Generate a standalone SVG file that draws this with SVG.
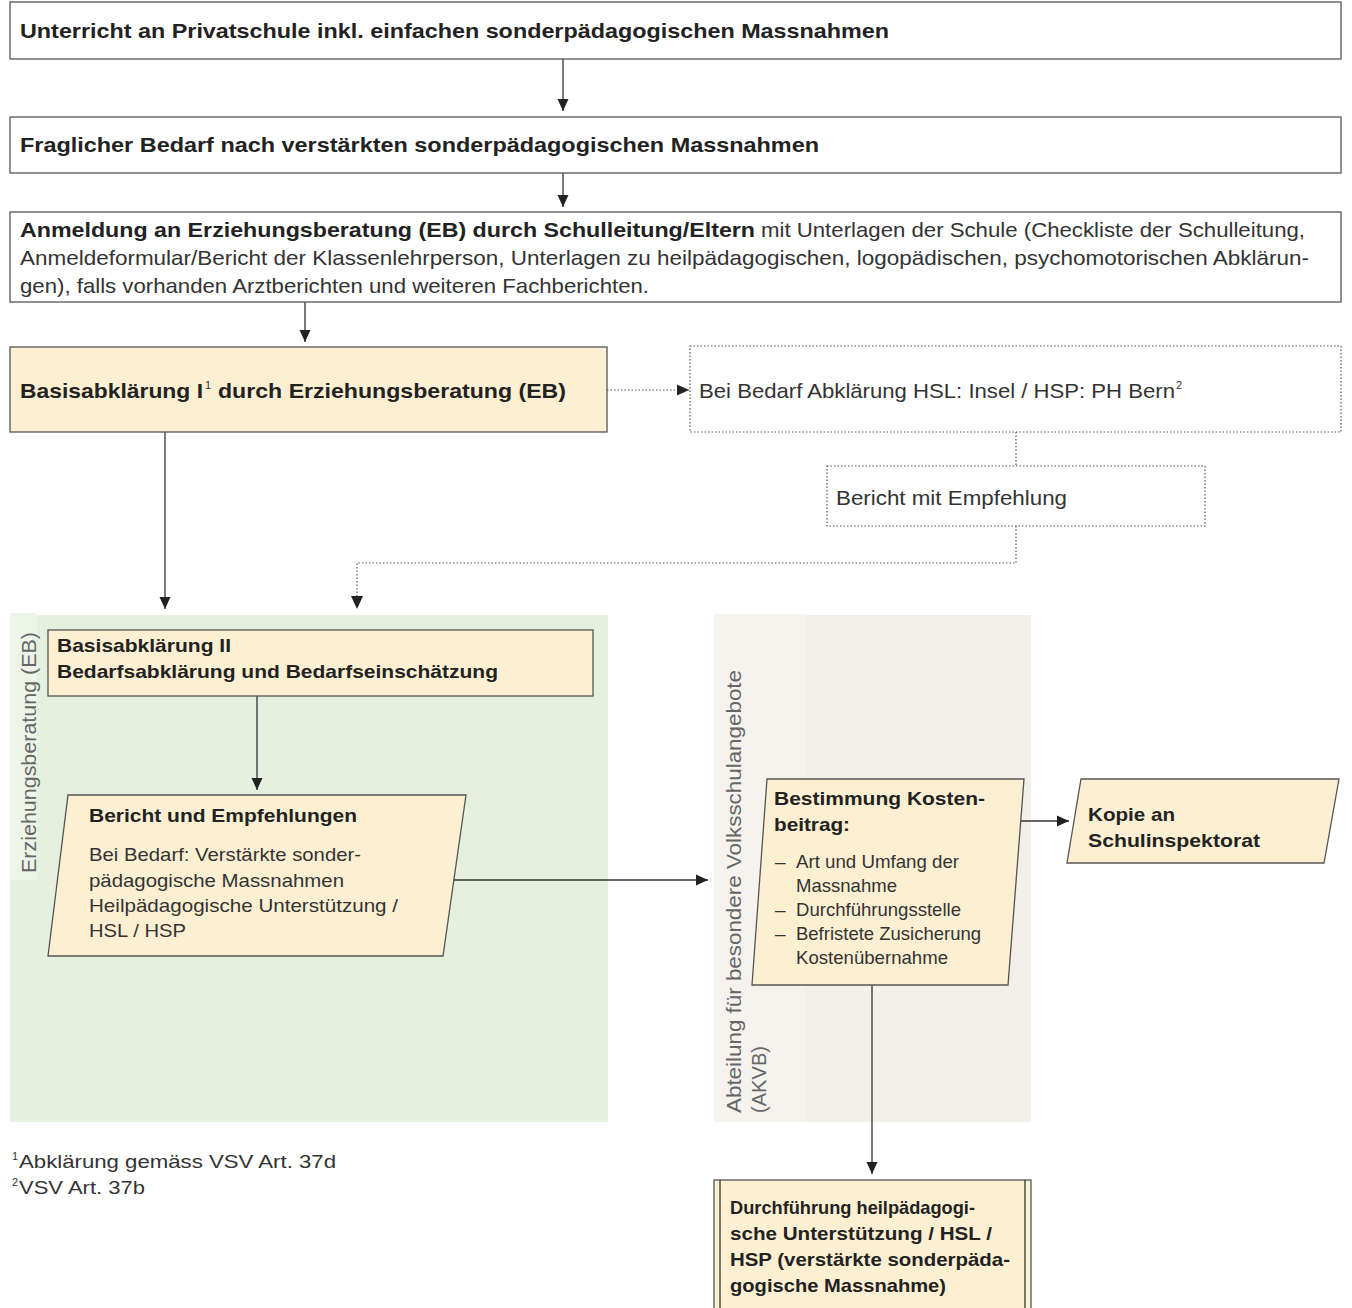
<svg xmlns="http://www.w3.org/2000/svg" width="1352" height="1308" viewBox="0 0 1352 1308">
<defs>
<style>
.box{fill:#fff;stroke:#555;stroke-width:1.3}
.yel{fill:#fdf0d2;stroke:#555;stroke-width:1.3}
.dot{fill:none;stroke:#555;stroke-width:1.2;stroke-dasharray:1.5 2}
.ln{fill:none;stroke:#333;stroke-width:1.3}
.dl{fill:none;stroke:#555;stroke-width:1.2;stroke-dasharray:1.5 2}
text{font-family:"Liberation Sans",Arial,sans-serif;font-size:21px;fill:#333}
.b{font-weight:bold;fill:#222}
.s{font-size:19px}
.sup{font-size:11px}
.lane{fill:#666;font-size:21px}
</style>
<marker id="ah" markerWidth="12" markerHeight="12" viewBox="0 0 12 12" refX="12" refY="6" orient="auto" markerUnits="userSpaceOnUse">
<path d="M0,0.5 L12,6 L0,11.5 Z" fill="#222"/>
</marker>
</defs>
<rect width="1352" height="1308" fill="#fff"/>

<g id="lanes">
<rect x="10" y="615" width="598" height="507" fill="#e6f0de"/>
<rect x="10" y="613" width="27" height="267" fill="#edf4e8"/>
<text class="lane" transform="translate(36,873) rotate(-90)" textLength="241" lengthAdjust="spacingAndGlyphs">Erziehungsberatung (EB)</text>
<rect x="714" y="615" width="317" height="507" fill="#f3efe9"/>
<rect x="714" y="614" width="91" height="508" fill="#f6f3ef"/>
<text class="lane" transform="translate(741,1113) rotate(-90)" textLength="443" lengthAdjust="spacingAndGlyphs">Abteilung für besondere Volksschulangebote</text>
<text class="lane" transform="translate(766,1113) rotate(-90)" textLength="67" lengthAdjust="spacingAndGlyphs">(AKVB)</text>
</g>

<g id="connectors">
<line class="ln" x1="563" y1="59" x2="563" y2="111" marker-end="url(#ah)"/>
<line class="ln" x1="563" y1="173" x2="563" y2="207" marker-end="url(#ah)"/>
<line class="ln" x1="305" y1="302" x2="305" y2="342" marker-end="url(#ah)"/>
<line class="dl" x1="607" y1="390" x2="689" y2="390" marker-end="url(#ah)"/>
<line class="dl" x1="1016" y1="432" x2="1016" y2="466"/>
<polyline class="dl" points="1016,526 1016,563 357,563 357,603"/>
<path d="M351,596 L363,596 L357,609 Z" fill="#222"/>
<line class="ln" x1="165" y1="432" x2="165" y2="609" marker-end="url(#ah)"/>
<line class="ln" x1="257" y1="696" x2="257" y2="790" marker-end="url(#ah)"/>
<line class="ln" x1="447" y1="880" x2="708" y2="880" marker-end="url(#ah)"/>
<line class="ln" x1="1020" y1="821" x2="1069" y2="821" marker-end="url(#ah)"/>
<line class="ln" x1="872" y1="985" x2="872" y2="1174" marker-end="url(#ah)"/>
</g>

<g id="n1">
<rect class="box" x="10" y="2" width="1331" height="57"/>
<text class="b" x="20" y="38" textLength="869" lengthAdjust="spacingAndGlyphs">Unterricht an Privatschule inkl. einfachen sonderpädagogischen Massnahmen</text>
</g>
<g id="n2">
<rect class="box" x="10" y="117" width="1331" height="56"/>
<text class="b" x="20" y="152" textLength="799" lengthAdjust="spacingAndGlyphs">Fraglicher Bedarf nach verstärkten sonderpädagogischen Massnahmen</text>
</g>
<g id="n3">
<rect class="box" x="10" y="212" width="1331" height="90"/>
<text class="b" x="20" y="237" textLength="735" lengthAdjust="spacingAndGlyphs">Anmeldung an Erziehungsberatung (EB) durch Schulleitung/Eltern</text>
<text x="761" y="237" textLength="544" lengthAdjust="spacingAndGlyphs">mit Unterlagen der Schule (Checkliste der Schulleitung,</text>
<text x="20" y="265" textLength="1289" lengthAdjust="spacingAndGlyphs">Anmeldeformular/Bericht der Klassenlehrperson, Unterlagen zu heilpädagogischen, logopädischen, psychomotorischen Abklärun-</text>
<text x="20" y="293" textLength="629" lengthAdjust="spacingAndGlyphs">gen), falls vorhanden Arztberichten und weiteren Fachberichten.</text>
</g>
<g id="n4">
<rect class="yel" x="10" y="347" width="597" height="85"/>
<text class="b" x="20" y="398" textLength="183" lengthAdjust="spacingAndGlyphs">Basisabklärung I</text>
<text class="sup" x="205" y="389">1</text>
<text class="b" x="218" y="398" textLength="348" lengthAdjust="spacingAndGlyphs">durch Erziehungsberatung (EB)</text>
</g>
<g id="n5">
<rect class="dot" x="690" y="346" width="651" height="86"/>
<text x="699" y="398" textLength="476" lengthAdjust="spacingAndGlyphs">Bei Bedarf Abklärung HSL: Insel / HSP: PH Bern</text>
<text class="sup" x="1176" y="389">2</text>
</g>
<g id="n6">
<rect class="dot" x="827" y="466" width="378" height="60"/>
<text x="836" y="505" textLength="231" lengthAdjust="spacingAndGlyphs">Bericht mit Empfehlung</text>
</g>
<g id="n7">
<rect class="yel" x="48" y="630" width="545" height="66"/>
<text class="b s" x="57" y="652" textLength="174" lengthAdjust="spacingAndGlyphs">Basisabklärung II</text>
<text class="b s" x="57" y="678" textLength="441" lengthAdjust="spacingAndGlyphs">Bedarfsabklärung und Bedarfseinschätzung</text>
</g>
<g id="n8">
<polygon class="yel" points="68,795 466,795 443,956 48,956"/>
<text class="b s" x="89" y="822" textLength="268" lengthAdjust="spacingAndGlyphs">Bericht und Empfehlungen</text>
<text class="s" x="89" y="861" textLength="272" lengthAdjust="spacingAndGlyphs">Bei Bedarf: Verstärkte sonder-</text>
<text class="s" x="89" y="887" textLength="255" lengthAdjust="spacingAndGlyphs">pädagogische Massnahmen</text>
<text class="s" x="89" y="912" textLength="309" lengthAdjust="spacingAndGlyphs">Heilpädagogische Unterstützung /</text>
<text class="s" x="89" y="937" textLength="97" lengthAdjust="spacingAndGlyphs">HSL / HSP</text>
</g>
<g id="n9">
<polygon class="yel" points="767,779 1024,779 1008,985 752,985"/>
<text class="b s" x="774" y="805" textLength="211" lengthAdjust="spacingAndGlyphs">Bestimmung Kosten-</text>
<text class="b s" x="774" y="831" textLength="76" lengthAdjust="spacingAndGlyphs">beitrag:</text>
<text class="s" x="775" y="868">–</text><text class="s" x="796" y="868" textLength="163" lengthAdjust="spacingAndGlyphs">Art und Umfang der</text>
<text class="s" x="796" y="892" textLength="101" lengthAdjust="spacingAndGlyphs">Massnahme</text>
<text class="s" x="775" y="916">–</text><text class="s" x="796" y="916" textLength="165" lengthAdjust="spacingAndGlyphs">Durchführungsstelle</text>
<text class="s" x="775" y="940">–</text><text class="s" x="796" y="940" textLength="185" lengthAdjust="spacingAndGlyphs">Befristete Zusicherung</text>
<text class="s" x="796" y="964" textLength="152" lengthAdjust="spacingAndGlyphs">Kostenübernahme</text>
</g>
<g id="n10">
<polygon class="yel" points="1081,779 1339,779 1324,863 1067,863"/>
<text class="b s" x="1088" y="821" textLength="87" lengthAdjust="spacingAndGlyphs">Kopie an</text>
<text class="b s" x="1088" y="847" textLength="172" lengthAdjust="spacingAndGlyphs">Schulinspektorat</text>
</g>
<g id="n11">
<rect class="yel" x="714" y="1180" width="317" height="135"/>
<line class="ln" x1="720" y1="1180" x2="720" y2="1308"/>
<line class="ln" x1="1025" y1="1180" x2="1025" y2="1308"/>
<text class="b s" x="730" y="1214" textLength="245" lengthAdjust="spacingAndGlyphs">Durchführung heilpädagogi-</text>
<text class="b s" x="730" y="1240" textLength="262" lengthAdjust="spacingAndGlyphs">sche Unterstützung / HSL /</text>
<text class="b s" x="730" y="1266" textLength="280" lengthAdjust="spacingAndGlyphs">HSP (verstärkte sonderpäda-</text>
<text class="b s" x="730" y="1292" textLength="216" lengthAdjust="spacingAndGlyphs">gogische Massnahme)</text>
</g>
<g id="footnotes">
<text class="sup" x="12" y="1160">1</text>
<text class="s" x="19" y="1168" textLength="317" lengthAdjust="spacingAndGlyphs">Abklärung gemäss VSV Art. 37d</text>
<text class="sup" x="12" y="1186">2</text>
<text class="s" x="19" y="1194" textLength="126" lengthAdjust="spacingAndGlyphs">VSV Art. 37b</text>
</g>
</svg>
